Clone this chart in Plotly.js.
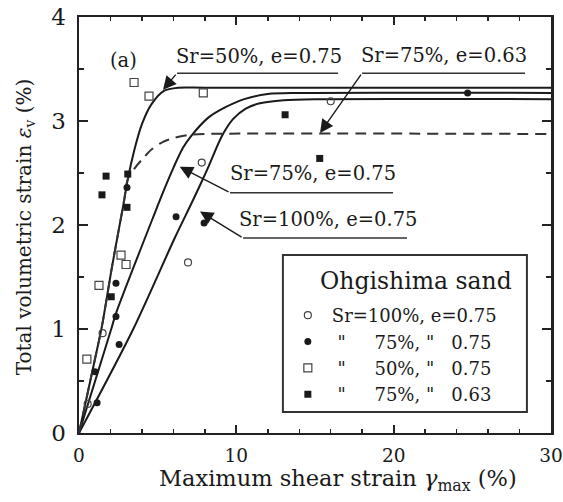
<!DOCTYPE html>
<html>
<head>
<meta charset="utf-8">
<script src="https://cdn.plot.ly/plotly-3.0.1.min.js"></script>
<style>html,body{margin:0;padding:0;background:#fff;}#chart{width:563px;height:502px;}</style>
</head>
<body>
<div id="chart"></div>
<script>
// Fitted curves
const curve50x = [0, 1.0, 1.45, 2.1, 2.85, 3.1, 3.55, 4.0, 4.6, 5.4, 6.3, 8.0, 30];
const curve50y = [0, 0.7, 1.02, 1.6, 2.22, 2.44, 2.74, 2.97, 3.16, 3.29, 3.32, 3.32, 3.32];
const curve75x = [0, 2.03, 2.35, 4.96, 5.3, 6.0, 6.6, 7.1, 8.2, 9.28, 10.5, 12, 14, 30];
const curve75y = [0, 0.99, 1.15, 2.17, 2.3, 2.55, 2.74, 2.85, 3.03, 3.13, 3.21, 3.26, 3.27, 3.27];
const curve100x = [0, 3.45, 6.1, 7.25, 8.14, 9.1, 9.8, 10.6, 11.5, 13, 15, 30];
const curve100y = [0, 1.0, 1.88, 2.24, 2.53, 2.86, 3.02, 3.12, 3.17, 3.2, 3.21, 3.21];
const curve63x = [0, 1.0, 1.45, 2.1, 2.85, 3.1, 3.56, 4.07, 4.64, 5.34, 6.1, 6.9, 8, 30];
const curve63y = [0, 0.7, 1.02, 1.6, 2.22, 2.44, 2.55, 2.64, 2.73, 2.8, 2.84, 2.865, 2.875, 2.875];

// Measured points
const sr100x = [0.55, 1.5, 6.93, 7.8, 16.0];
const sr100y = [0.28, 0.96, 1.64, 2.6, 3.19];
const sr75x = [1.15, 1.02, 2.55, 2.35, 2.35, 3.05, 6.17, 7.95, 24.7];
const sr75y = [0.29, 0.59, 0.85, 1.12, 1.44, 2.36, 2.08, 2.02, 3.27];
const sr50x = [0.5, 1.27, 2.67, 2.99, 3.5, 4.45, 7.9];
const sr50y = [0.71, 1.42, 1.71, 1.62, 3.37, 3.24, 3.27];
const sr75e63x = [1.46, 1.72, 2.05, 3.05, 3.1, 13.1, 15.3];
const sr75e63y = [2.29, 2.47, 1.31, 2.17, 2.49, 3.06, 2.64];

const NB = '\u00a0';
const legendTitle = 'Ohgishima sand';
const legendNames = [
  'Sr=100%, e=0.75',
  NB + '"' + NB.repeat(5) + '75%,' + NB + '"' + NB.repeat(3) + '0.75',
  NB + '"' + NB.repeat(5) + '50%,' + NB + '"' + NB.repeat(3) + '0.75',
  NB + '"' + NB.repeat(5) + '75%,' + NB + '"' + NB.repeat(3) + '0.63'
];
const curveLabels = ['Sr=50%, e=0.75', 'Sr=75%, e=0.63', 'Sr=75%, e=0.75', 'Sr=100%, e=0.75'];

const FONT = 'DejaVu Serif';
const INK = '#1a1a1a';

const lineStyle = {color: INK, width: 2};
const traces = [
  {x: curve50x, y: curve50y, mode: 'lines', line: Object.assign({shape: 'spline', smoothing: 0.8}, lineStyle), showlegend: false, hoverinfo: 'skip'},
  {x: curve75x, y: curve75y, mode: 'lines', line: Object.assign({shape: 'spline', smoothing: 0.8}, lineStyle), showlegend: false, hoverinfo: 'skip'},
  {x: curve100x, y: curve100y, mode: 'lines', line: Object.assign({shape: 'spline', smoothing: 0.8}, lineStyle), showlegend: false, hoverinfo: 'skip'},
  {x: curve63x, y: curve63y, mode: 'lines', line: {color: '#333', width: 2, dash: '11px,7px', shape: 'spline', smoothing: 0.8}, showlegend: false, hoverinfo: 'skip'},
  {x: sr100x, y: sr100y, mode: 'markers', name: legendNames[0], marker: {symbol: 'circle-open', size: 7, color: '#444', line: {width: 1.2, color: '#444'}}},
  {x: sr75x, y: sr75y, mode: 'markers', name: legendNames[1], marker: {symbol: 'circle', size: 7, color: INK}},
  {x: sr50x, y: sr50y, mode: 'markers', name: legendNames[2], marker: {symbol: 'square-open', size: 8, color: '#444', line: {width: 1.2, color: '#444'}}},
  {x: sr75e63x, y: sr75e63y, mode: 'markers', name: legendNames[3], marker: {symbol: 'square', size: 7, color: INK}}
];

function leader(tipX, tipY, fromX, fromY) {
  return {x: tipX, y: tipY, ax: fromX, ay: fromY, xref: 'x', yref: 'y', axref: 'x', ayref: 'y',
    text: '', showarrow: true, arrowhead: 2, arrowsize: 1.9, arrowwidth: 1.4, arrowcolor: INK};
}
function label(txt, x, y) {
  return {x: x, y: y, xref: 'x', yref: 'y', text: txt, showarrow: false,
    font: {family: FONT, size: 19.5, color: INK}, xanchor: 'center', yanchor: 'middle'};
}
function underline(x0, x1, y) {
  return {type: 'line', xref: 'x', yref: 'y', x0: x0, x1: x1, y0: y, y1: y, line: {color: '#333', width: 1.5}};
}

const layout = {
  width: 563, height: 502,
  margin: {l: 79, r: 12, t: 17, b: 69},
  paper_bgcolor: '#fff', plot_bgcolor: '#fff',
  font: {family: FONT, color: INK},
  xaxis: {
    range: [0, 30], dtick: 10, tick0: 0, showgrid: false, zeroline: false,
    showline: true, linewidth: 2, linecolor: '#222', mirror: 'allticks',
    ticks: 'inside', ticklen: 8, tickwidth: 2, tickcolor: '#222',
    minor: {dtick: 2, ticks: 'inside', ticklen: 4, tickwidth: 1.5, tickcolor: '#222'},
    tickfont: {family: FONT, size: 18.5, color: INK}, ticklabelstandoff: 5,
    ticklabeloverflow: 'allow'
  },
  yaxis: {
    range: [0, 4], dtick: 1, tick0: 0, showgrid: false, zeroline: false,
    showline: true, linewidth: 2.5, linecolor: '#222', mirror: 'allticks',
    ticks: 'inside', ticklen: 9, tickwidth: 2, tickcolor: '#222',
    minor: {dtick: 0.5, ticks: 'inside', ticklen: 5, tickwidth: 1.5, tickcolor: '#222'},
    tickfont: {family: FONT, size: 23, color: INK}, ticklabelstandoff: 6
  },
  legend: {
    x: 0.434, y: 0.327, xanchor: 'left', yanchor: 'top',
    bgcolor: 'rgba(0,0,0,0)', borderwidth: 0,
    font: {family: FONT, size: 18, color: INK},
    itemwidth: 38, tracegroupgap: 0
  },
  shapes: [
    {type: 'rect', xref: 'paper', yref: 'paper', x0: 0.432, x1: 0.949, y0: 0.0505, y1: 0.428,
      line: {color: '#333', width: 2}, fillcolor: 'rgba(0,0,0,0)'},
    underline(6.23, 16.47, 3.46),
    underline(17.99, 28.35, 3.46),
    underline(9.6, 19.96, 2.31),
    underline(10.43, 20.85, 1.875)
  ],
  annotations: [
    {x: 2.8, y: 3.58, xref: 'x', yref: 'y', text: '(a)', showarrow: false, font: {family: FONT, size: 19.5, color: INK}},
    label(curveLabels[0], 11.44, 3.62),
    label(curveLabels[1], 23.2, 3.63),
    label(curveLabels[2], 14.88, 2.5),
    label(curveLabels[3], 15.83, 2.05),
    leader(5.34, 3.30, 6.23, 3.46),
    leader(15.32, 2.885, 17.99, 3.46),
    leader(6.4, 2.56, 9.6, 2.31),
    leader(7.69, 2.13, 10.43, 1.875),
    {x: 0.713, y: 0.365, xref: 'paper', yref: 'paper', xanchor: 'center', yanchor: 'middle', showarrow: false,
      text: legendTitle, font: {family: FONT, size: 23.5, color: INK}},
    {x: 0.548, y: -0.112, xref: 'paper', yref: 'paper', xanchor: 'center', yanchor: 'middle', showarrow: false,
      text: 'Maximum shear strain <i>γ</i><sub>max</sub> (%)', font: {family: FONT, size: 22.5, color: INK}},
    {x: -0.114, y: 0.495, xref: 'paper', yref: 'paper', xanchor: 'center', yanchor: 'middle', showarrow: false, textangle: -90,
      text: 'Total volumetric strain <i>ε</i><sub>v</sub> (%)', font: {family: FONT, size: 20, color: INK}}
  ]
};

Plotly.newPlot('chart', traces, layout, {displayModeBar: false, staticPlot: true});
</script>
</body>
</html>
